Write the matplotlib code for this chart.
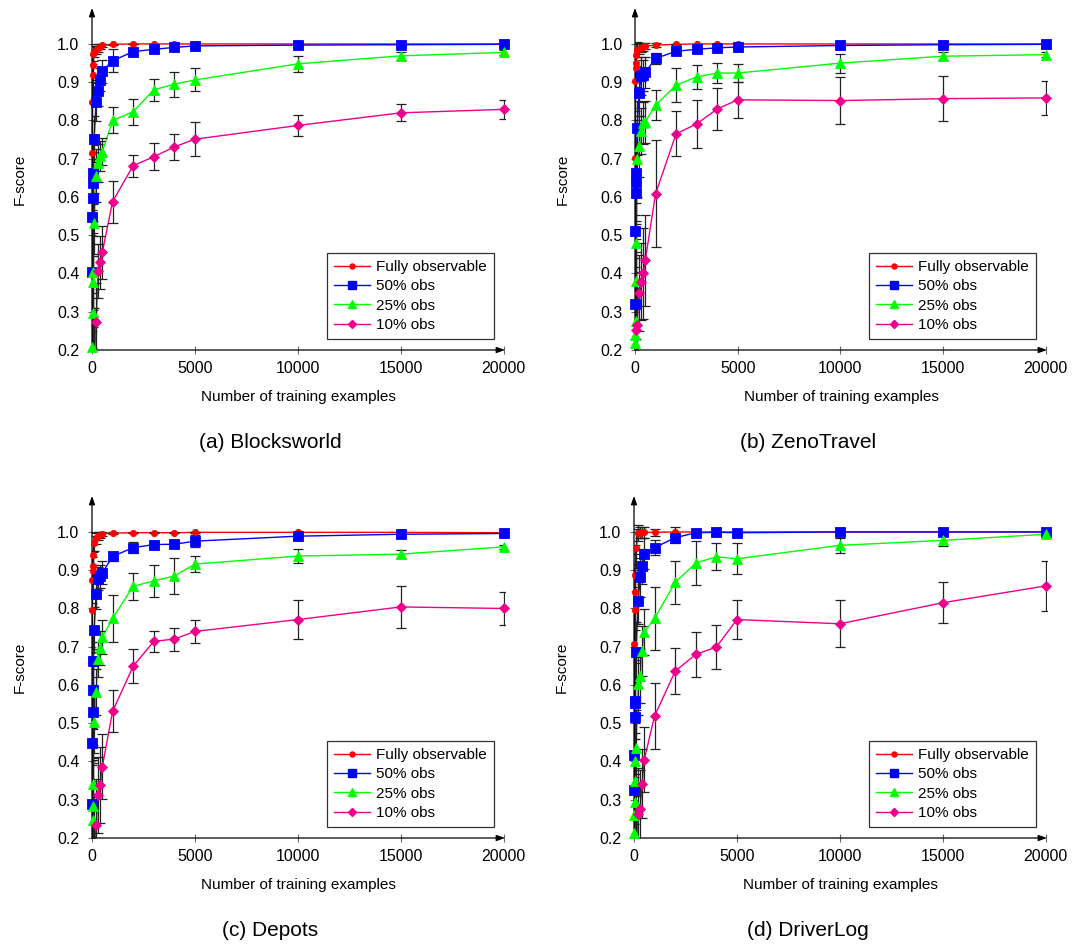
import numpy as np
import matplotlib
matplotlib.use("Agg")
import matplotlib.pyplot as plt
from matplotlib.lines import Line2D

plt.rcParams['font.family'] = ['Liberation Sans', 'DejaVu Sans']

# ---------------- data ----------------
x = [10, 20, 30, 40, 50, 100, 200, 300, 400, 500, 1000, 2000, 3000, 4000, 5000, 10000, 15000, 20000]

series_labels = ["Fully observable", "50% obs", "25% obs", "10% obs"]
panel_titles = ["(a) Blocksworld", "(b) ZenoTravel", "(c) Depots", "(d) DriverLog"]
x_ticks = [0, 5000, 10000, 15000, 20000]
y_ticks = [0.2, 0.3, 0.4, 0.5, 0.6, 0.7, 0.8, 0.9, 1.0]

# (a) Blocksworld
full_a = [0.716, 0.847, 0.920, 0.945, 0.975, 0.980, 0.985, 0.990, 0.993, 0.996, 0.999, 1.0, 1.0, 1.0, 1.0, 1.0, 1.0, 1.0]
full_a_err = [0.15, 0.1, 0.06, 0.04, 0.02, 0.015, 0.01, 0.01, 0.006, 0.004, 0.002, 0.001, 0.001, 0.001, 0.001, 0.0, 0.0, 0.0]
obs50_a = [0.405, 0.548, 0.598, 0.637, 0.662, 0.751, 0.849, 0.877, 0.906, 0.929, 0.956, 0.980, 0.986, 0.991, 0.995, 0.997, 0.998, 0.999]
obs50_a_err = [0.2, 0.15, 0.12, 0.1, 0.08, 0.06, 0.05, 0.04, 0.03, 0.03, 0.03, 0.008, 0.006, 0.005, 0.004, 0.003, 0.002, 0.002]
obs25_a = [0.15, 0.209, 0.296, 0.379, 0.405, 0.531, 0.656, 0.688, 0.707, 0.718, 0.800, 0.823, 0.880, 0.895, 0.906, 0.948, 0.969, 0.978]
obs25_a_err = [0.2, 0.2, 0.15, 0.12, 0.1, 0.08, 0.07, 0.05, 0.04, 0.035, 0.034, 0.034, 0.028, 0.033, 0.030, 0.020, 0.010, 0.006]
obs10_a = [0.05, 0.07, 0.09, 0.11, 0.13, 0.16, 0.274, 0.407, 0.429, 0.455, 0.588, 0.682, 0.705, 0.731, 0.751, 0.787, 0.820, 0.829]
obs10_a_err = [0.2, 0.2, 0.2, 0.2, 0.15, 0.15, 0.1, 0.07, 0.07, 0.07, 0.055, 0.029, 0.035, 0.034, 0.044, 0.028, 0.022, 0.025]

# (b) ZenoTravel
full_b = [0.702, 0.904, 0.937, 0.950, 0.972, 0.985, 0.988, 0.990, 0.992, 0.994, 0.997, 0.999, 1.0, 1.0, 1.0, 1.0, 1.0, 1.0]
full_b_err = [0.15, 0.08, 0.05, 0.04, 0.03, 0.02, 0.015, 0.01, 0.01, 0.008, 0.005, 0.002, 0.001, 0.001, 0.001, 0.0, 0.0, 0.0]
obs50_b = [0.321, 0.512, 0.610, 0.638, 0.663, 0.780, 0.872, 0.917, 0.918, 0.926, 0.962, 0.981, 0.986, 0.990, 0.992, 0.996, 0.998, 0.999]
obs50_b_err = [0.2, 0.15, 0.12, 0.1, 0.08, 0.07, 0.06, 0.05, 0.04, 0.04, 0.015, 0.008, 0.006, 0.005, 0.004, 0.003, 0.002, 0.001]
obs25_b = [0.218, 0.240, 0.277, 0.380, 0.481, 0.700, 0.732, 0.772, 0.793, 0.797, 0.840, 0.892, 0.914, 0.924, 0.924, 0.950, 0.968, 0.972]
obs25_b_err = [0.2, 0.2, 0.18, 0.15, 0.12, 0.1, 0.08, 0.06, 0.055, 0.055, 0.04, 0.044, 0.031, 0.027, 0.023, 0.025, 0.01, 0.007]
obs10_b = [0.05, 0.08, 0.11, 0.15, 0.253, 0.266, 0.349, 0.379, 0.400, 0.434, 0.608, 0.765, 0.791, 0.830, 0.854, 0.852, 0.857, 0.859]
obs10_b_err = [0.2, 0.2, 0.2, 0.2, 0.15, 0.12, 0.1, 0.1, 0.12, 0.12, 0.14, 0.059, 0.062, 0.054, 0.047, 0.062, 0.058, 0.044]

# (c) Depots
full_c = [0.795, 0.875, 0.897, 0.911, 0.939, 0.970, 0.983, 0.990, 0.993, 0.995, 0.997, 0.998, 0.998, 0.998, 0.999, 0.999, 0.999, 0.998]
full_c_err = [0.1, 0.06, 0.05, 0.04, 0.03, 0.02, 0.015, 0.01, 0.008, 0.006, 0.003, 0.002, 0.002, 0.002, 0.002, 0.001, 0.001, 0.001]
obs50_c = [0.288, 0.449, 0.529, 0.586, 0.662, 0.743, 0.839, 0.878, 0.884, 0.893, 0.936, 0.959, 0.967, 0.968, 0.976, 0.989, 0.994, 0.996]
obs50_c_err = [0.2, 0.15, 0.12, 0.1, 0.08, 0.06, 0.04, 0.03, 0.03, 0.03, 0.012, 0.015, 0.01, 0.01, 0.015, 0.006, 0.004, 0.003]
obs25_c = [0.15, 0.19, 0.246, 0.283, 0.342, 0.502, 0.582, 0.667, 0.697, 0.725, 0.774, 0.858, 0.872, 0.885, 0.916, 0.937, 0.942, 0.961]
obs25_c_err = [0.2, 0.2, 0.15, 0.12, 0.1, 0.08, 0.06, 0.045, 0.045, 0.045, 0.062, 0.036, 0.041, 0.047, 0.021, 0.018, 0.011, 0.005]
obs10_c = [0.05, 0.07, 0.09, 0.11, 0.13, 0.16, 0.233, 0.313, 0.338, 0.386, 0.531, 0.649, 0.714, 0.720, 0.740, 0.771, 0.804, 0.800]
obs10_c_err = [0.2, 0.2, 0.2, 0.2, 0.15, 0.15, 0.12, 0.1, 0.1, 0.085, 0.055, 0.044, 0.028, 0.03, 0.03, 0.05, 0.056, 0.042]

# (d) DriverLog
full_d = [0.56, 0.706, 0.797, 0.843, 0.887, 0.957, 0.997, 0.998, 0.999, 0.999, 0.999, 1.0, 1.0, 1.0, 1.0, 1.0, 1.0, 1.0]
full_d_err = [0.2, 0.15, 0.12, 0.1, 0.08, 0.05, 0.02, 0.015, 0.015, 0.015, 0.01, 0.012, 0.002, 0.001, 0.001, 0.0, 0.0, 0.0]
obs50_d = [0.325, 0.416, 0.516, 0.553, 0.558, 0.685, 0.819, 0.881, 0.910, 0.943, 0.959, 0.985, 0.998, 0.999, 0.998, 1.0, 1.0, 1.0]
obs50_d_err = [0.2, 0.18, 0.15, 0.12, 0.1, 0.08, 0.06, 0.05, 0.045, 0.04, 0.02, 0.013, 0.004, 0.003, 0.003, 0.002, 0.001, 0.001]
obs25_d = [0.214, 0.259, 0.294, 0.350, 0.400, 0.434, 0.602, 0.623, 0.688, 0.739, 0.774, 0.868, 0.919, 0.935, 0.930, 0.965, 0.978, 0.994]
obs25_d_err = [0.2, 0.2, 0.18, 0.15, 0.12, 0.1, 0.08, 0.07, 0.065, 0.06, 0.083, 0.056, 0.058, 0.035, 0.04, 0.02, 0.015, 0.005]
obs10_d = [0.05, 0.07, 0.09, 0.11, 0.13, 0.16, 0.264, 0.277, 0.342, 0.405, 0.519, 0.636, 0.680, 0.699, 0.771, 0.760, 0.815, 0.859]
obs10_d_err = [0.2, 0.2, 0.2, 0.2, 0.15, 0.15, 0.12, 0.1, 0.09, 0.085, 0.086, 0.06, 0.058, 0.058, 0.052, 0.062, 0.053, 0.066]

panels = [
    [(full_a, full_a_err), (obs50_a, obs50_a_err), (obs25_a, obs25_a_err), (obs10_a, obs10_a_err)],
    [(full_b, full_b_err), (obs50_b, obs50_b_err), (obs25_b, obs25_b_err), (obs10_b, obs10_b_err)],
    [(full_c, full_c_err), (obs50_c, obs50_c_err), (obs25_c, obs25_c_err), (obs10_c, obs10_c_err)],
    [(full_d, full_d_err), (obs50_d, obs50_d_err), (obs25_d, obs25_d_err), (obs10_d, obs10_d_err)],
]

# ---------------- style ----------------
colors = ["#ff0000", "#0000ff", "#00ff00", "#ec008c"]
markers = ["o", "s", "^", "D"]
msizes = [4.5, 6.5, 7.5, 5.5]

W, H = 1076, 948
fig = plt.figure(figsize=(W / 100, H / 100), dpi=100)

# axes boxes in pixels: left, right, top(of y-range), bottom
boxes = [(92, 505, 8, 350), (635, 1047, 8, 350), (92, 505, 496, 838), (634, 1047, 496, 838)]
caption_pos = [(270, 443), (808, 443), (270, 930), (808, 930)]

YMIN, YMAX = 0.2, 1.094
XMIN, XMAX = 0, 20060

for p, (l, r, t, b) in enumerate(boxes):
    ax = fig.add_axes([l / W, (H - b) / H, (r - l) / W, (b - t) / H])
    ax.set_xlim(XMIN, XMAX)
    ax.set_ylim(YMIN, YMAX)
    for k, (vals, errs) in enumerate(panels[p]):
        xv = np.array(x, dtype=float)
        yv = np.array(vals, dtype=float)
        ev = np.array(errs, dtype=float)
        ax.plot(xv, yv, color=colors[k], lw=1.0, zorder=2 + k * 0.1)
        ax.errorbar(xv, yv, yerr=ev, fmt='none', ecolor='#222222', elinewidth=0.9,
                    capsize=3.5, capthick=0.9, zorder=3)
        vis = yv >= YMIN
        ax.plot(xv[vis], yv[vis], linestyle='none', marker=markers[k], ms=msizes[k],
                color=colors[k], mec=colors[k], mew=0.6, clip_on=False, zorder=4 + k * 0.1)

    for s in ax.spines.values():
        s.set_visible(False)
    ax.annotate('', xy=(0, 1), xytext=(0, 0), xycoords='axes fraction',
                arrowprops=dict(arrowstyle='-|>,head_length=0.5,head_width=0.18', lw=0.9,
                                color='black', shrinkA=0, shrinkB=0))
    ax.annotate('', xy=(1, 0), xytext=(0, 0), xycoords='axes fraction',
                arrowprops=dict(arrowstyle='-|>,head_length=0.5,head_width=0.18', lw=0.9,
                                color='black', shrinkA=0, shrinkB=0))

    ax.set_xticks(x_ticks)
    ax.set_xticklabels([str(v) for v in x_ticks])
    ax.set_yticks(y_ticks)
    ax.set_yticklabels(["%.1f" % v for v in y_ticks])
    ax.tick_params(direction='inout', length=6, width=0.8, color='#666666',
                   labelsize=11.5, pad=5)
    ax.tick_params(axis='y', pad=6)
    ax.set_xlabel("Number of training examples", fontsize=11, labelpad=10)
    ax.set_ylabel("F-score", fontsize=11, labelpad=22)

    handles = [Line2D([0], [0], color=colors[k], lw=1.0, marker=markers[k], ms=msizes[k] * 0.8,
                      mec=colors[k]) for k in range(4)]
    leg = ax.legend(handles, series_labels, loc='lower right',
                    bbox_to_anchor=((r - 11 - l) / (r - l), 11 / (b - t)), borderaxespad=0,
                    fontsize=11, frameon=True, fancybox=False, edgecolor='#333333',
                    framealpha=1, handlelength=2.4, handletextpad=0.4, labelspacing=0.35,
                    borderpad=0.45)
    leg.get_frame().set_linewidth(0.9)

    cx, cy = caption_pos[p]
    fig.text(cx / W, 1 - cy / H, panel_titles[p], ha='center', va='center', fontsize=15)

fig.savefig("out.png", dpi=100)
